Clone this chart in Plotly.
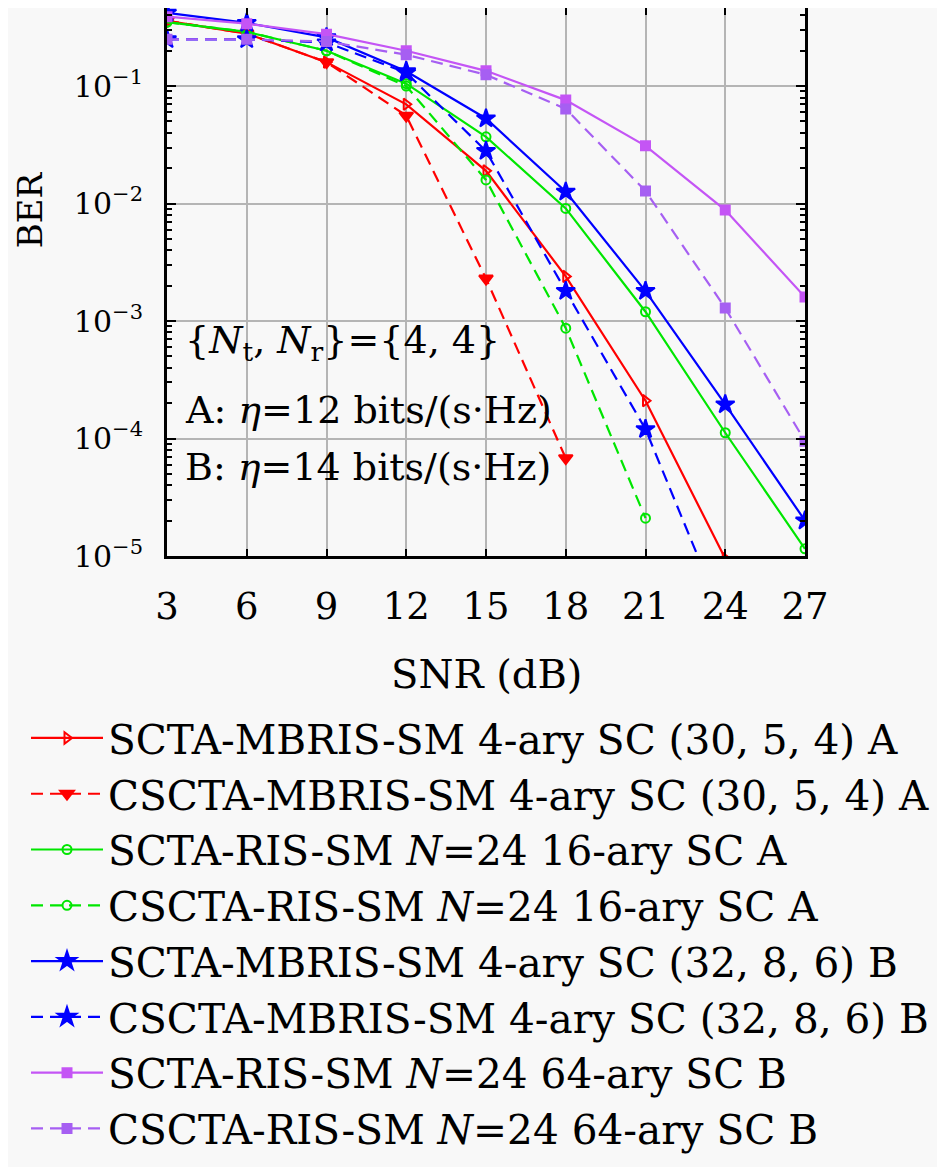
import plotly.graph_objects as go

# SNR points (dB)
snr = [3, 6, 9, 12, 15, 18, 21, 24, 27]

# BER values
ber_mbris_a = [0.36, 0.28, 0.16, 0.07, 0.019, 0.0024, 2.1e-4, 9.5e-6]
ber_mbris_a_c = [0.36, 0.28, 0.16, 0.056, 0.0023, 6.8e-5]
ber_ris_a = [0.35, 0.29, 0.2, 0.105, 0.037, 0.0091, 1.2e-3, 1.12e-4, 1.15e-5]
ber_ris_a_c = [0.35, 0.29, 0.2, 0.1, 0.0159, 8.7e-4, 2.1e-5]
ber_mbris_b = [0.42, 0.345, 0.26, 0.134, 0.053, 0.0126, 1.8e-3, 1.95e-4, 2.0e-5]
ber_mbris_b_c = [0.25, 0.25, 0.235, 0.13, 0.028, 1.8e-3, 1.2e-4, 2.7e-6]
ber_ris_b = [0.39, 0.34, 0.277, 0.2, 0.135, 0.076, 0.031, 0.0088, 0.0016]
ber_ris_b_c = [0.25, 0.25, 0.24, 0.185, 0.125, 0.064, 0.0128, 1.29e-3, 9.5e-5]

names = [
    "SCTA-MBRIS-SM 4-ary SC (30, 5, 4) A",
    "CSCTA-MBRIS-SM 4-ary SC (30, 5, 4) A",
    "SCTA-RIS-SM <i>N</i>=24 16-ary SC A",
    "CSCTA-RIS-SM <i>N</i>=24 16-ary SC A",
    "SCTA-MBRIS-SM 4-ary SC (32, 8, 6) B",
    "CSCTA-MBRIS-SM 4-ary SC (32, 8, 6) B",
    "SCTA-RIS-SM <i>N</i>=24 64-ary SC B",
    "CSCTA-RIS-SM <i>N</i>=24 64-ary SC B",
]

# decade ticks and the 2..9 minor ticks between them
major_ticks = [1e-5, 1e-4, 1e-3, 1e-2, 1e-1]
major_text = ["10<sup>−5</sup>", "10<sup>−4</sup>", "10<sup>−3</sup>", "10<sup>−2</sup>", "10<sup>−1</sup>"]
minor_ticks = [m * d for d in major_ticks for m in range(2, 10) if m * d <= 0.5]

FONT = "DejaVu Serif"
BG = "#f8f8f8"
DASH = "12px,7px"

series = [
    (ber_mbris_a, "#ff0000", "solid", "triangle-right-open", 10),
    (ber_mbris_a_c, "#ff0000", DASH, "triangle-down", 12),
    (ber_ris_a, "#00e600", "solid", "circle-open", 9),
    (ber_ris_a_c, "#00e600", DASH, "circle-open", 9),
    (ber_mbris_b, "#0000ff", "solid", "star", 14),
    (ber_mbris_b_c, "#0000ff", DASH, "star", 14),
    (ber_ris_b, "#c455f5", "solid", "square", 9),
    (ber_ris_b_c, "#a65ff2", DASH, "square", 9),
]

fig = go.Figure()
for name, (vals, color, dash, sym, size) in zip(names, series):
    fig.add_trace(
        go.Scatter(
            x=snr[: len(vals)],
            y=vals,
            mode="lines+markers",
            name=name,
            line=dict(color=color, width=2.2, dash=dash),
            marker=dict(symbol=sym, size=size, color=color, line=dict(color=color, width=2)),
        )
    )

# text box inside the plot
notes = [
    ("{<i>N</i><sub>t</sub>, <i>N</i><sub>r</sub>}={4, 4}", 0.3905),
    ("A: <i>η</i>=12 bits/(s·Hz)", 0.2664),
    ("B: <i>η</i>=14 bits/(s·Hz)", 0.1624),
]
for txt, yy in notes:
    fig.add_annotation(
        text=txt, xref="paper", yref="paper", x=0.025, y=yy,
        xanchor="left", yanchor="middle", showarrow=False,
        font=dict(family=FONT, size=38, color="black"),
    )

# axis titles
fig.add_annotation(
    text="SNR (dB)", xref="paper", yref="paper", x=0.5, y=-0.215,
    xanchor="center", yanchor="middle", showarrow=False,
    font=dict(family=FONT, size=40, color="black"),
)
fig.add_annotation(
    text="BER", xref="paper", yref="paper", x=-0.2147, y=0.631,
    xanchor="center", yanchor="middle", showarrow=False, textangle=-90,
    font=dict(family=FONT, size=34, color="black"),
)

# page body adds an 8px offset, so the figure is 8px smaller than the window
fig.update_layout(
    width=937,
    height=1159,
    paper_bgcolor=BG,
    plot_bgcolor=BG,
    margin=dict(l=159, r=140, t=0, b=611, autoexpand=False),
    font=dict(family=FONT, color="black"),
    legend=dict(
        x=-0.221, y=-0.272,
        xanchor="left", yanchor="top",
        font=dict(family=FONT, size=40.6),
        bgcolor="rgba(0,0,0,0)",
        itemwidth=72,
        tracegroupgap=0,
    ),
)

fig.update_xaxes(
    range=[3, 27],
    tickvals=snr,
    ticks="inside",
    ticklen=7,
    tickwidth=2,
    tickcolor="black",
    ticklabelstandoff=16,
    showline=True,
    linecolor="black",
    linewidth=3,
    mirror="ticks",
    showgrid=True,
    gridcolor="#b5b5b5",
    gridwidth=2,
    zeroline=False,
    tickfont=dict(family=FONT, size=37),
)

fig.update_yaxes(
    type="log",
    range=[-5, -0.335],
    tickmode="array",
    tickvals=major_ticks,
    ticktext=major_text,
    ticks="inside",
    ticklen=9,
    tickwidth=2,
    tickcolor="black",
    ticklabelstandoff=15,
    minor=dict(tickmode="array", tickvals=minor_ticks, ticks="inside", ticklen=5,
               tickcolor="black", showgrid=False),
    showline=True,
    linecolor="black",
    linewidth=3,
    mirror="ticks",
    showgrid=True,
    gridcolor="#b5b5b5",
    gridwidth=2,
    zeroline=False,
    tickfont=dict(family=FONT, size=30),
)

fig.write_html("out.html")
